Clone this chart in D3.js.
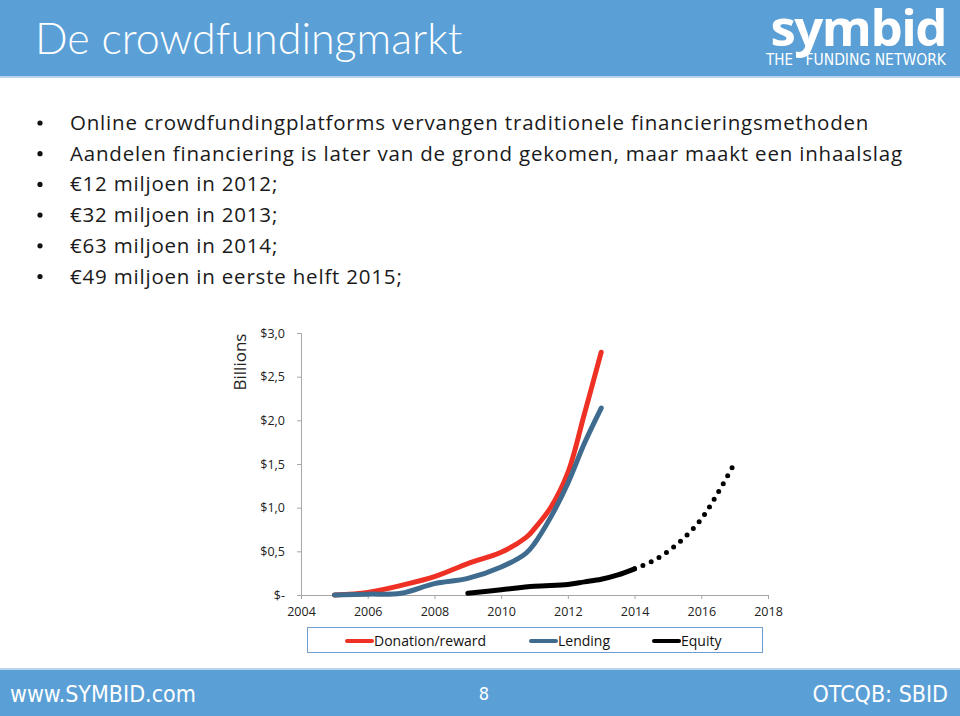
<!DOCTYPE html>
<html><head><meta charset="utf-8">
<script src="https://cdn.jsdelivr.net/npm/d3@7"></script>
<style>
body{margin:0;background:#fff;}
svg{display:block;}
</style></head>
<body>
<svg id="c" width="960" height="716"></svg>
<script>
const title = "De crowdfundingmarkt";
const bullets = [
  "Online crowdfundingplatforms vervangen traditionele financieringsmethoden",
  "Aandelen financiering is later van de grond gekomen, maar maakt een inhaalslag",
  "€12 miljoen in 2012;",
  "€32 miljoen in 2013;",
  "€63 miljoen in 2014;",
  "€49 miljoen in eerste helft 2015;"
];
const xTicks = [2004, 2006, 2008, 2010, 2012, 2014, 2016, 2018];
const yTicks = [0, 0.5, 1.0, 1.5, 2.0, 2.5, 3.0];
const yTickLabels = ["$-", "$0,5", "$1,0", "$1,5", "$2,0", "$2,5", "$3,0"];
const seriesNames = ["Donation/reward", "Lending", "Equity"];
const donationYears = [2005, 2006, 2007, 2008, 2009, 2010, 2010.75, 2011, 2011.5, 2012, 2012.5, 2013];
const donationValues = [0, 0.03, 0.11, 0.21, 0.36, 0.49, 0.66, 0.76, 1.01, 1.40, 2.08, 2.78];
const lendingYears = [2005, 2006, 2007, 2008, 2009, 2010, 2010.75, 2011, 2011.5, 2012, 2012.5, 2013];
const lendingValues = [0, 0.01, 0.02, 0.13, 0.19, 0.32, 0.48, 0.59, 0.90, 1.28, 1.74, 2.14];
const equityYears = [2009, 2010, 2011, 2012, 2012.5, 2013, 2013.5, 2014];
const equityValues = [0.02, 0.06, 0.10, 0.12, 0.15, 0.18, 0.23, 0.30];
const projYears = [2014, 2014.5, 2015, 2015.5, 2016, 2016.5, 2017];
const projValues = [0.30, 0.38, 0.50, 0.66, 0.87, 1.17, 1.51];
const colors = ["#ee3124", "#3f6b8e", "#000000"];
const footerLeft = "www.SYMBID.com", pageNum = "8", footerRight = "OTCQB: SBID";

const svg = d3.select("#c");
const sans = "'Open Sans','Lato',sans-serif";
const lato = "'Lato','Open Sans',sans-serif";
const narrow = "'Liberation Sans Narrow','DejaVu Sans Condensed','Roboto',sans-serif";

// header
svg.append("rect").attr("x",0).attr("y",0).attr("width",960).attr("height",76).attr("fill","#5a9fd6");
svg.append("rect").attr("x",0).attr("y",76).attr("width",960).attr("height",2).attr("fill","#b9d4ec");
svg.append("text").attr("x",35).attr("y",54).attr("fill","#fff").attr("font-family",lato)
  .attr("font-size",43).attr("font-weight",300).text(title);
svg.append("text").attr("x",946).attr("y",46).attr("text-anchor","end").attr("fill","#fff")
  .attr("font-family","'Open Sans',sans-serif").attr("font-weight",700).attr("font-size",51).attr("letter-spacing",-1.5).text("symbid");
svg.append("text").attr("x",766).attr("y",65).attr("fill","#fff").attr("font-family",narrow)
  .attr("font-size",15).text("THE");
svg.append("text").attr("x",946).attr("y",65).attr("text-anchor","end").attr("fill","#fff").attr("font-family",narrow)
  .attr("font-size",15.5).text("FUNDING NETWORK");

// bullets
const bg = svg.append("g");
bullets.forEach((b,i)=>{
  const y = 130 + i*30.7;
  bg.append("circle").attr("cx",40).attr("cy",y-7).attr("r",2.6).attr("fill","#111");
  bg.append("text").attr("x",70).attr("y",y).attr("font-family",sans).attr("font-size",20.5)
    .attr("letter-spacing",0.8).attr("fill","#1a1a1a").text(b);
});

// chart
const x = d3.scaleLinear().domain([2004,2018]).range([301,768]);
const y = d3.scaleLinear().domain([0,3]).range([595,333]);
const gx = svg.append("g").attr("transform","translate(0,595)")
  .call(d3.axisBottom(x).tickValues(xTicks).tickFormat(d3.format("d")).tickSize(4).tickPadding(6));
const gy = svg.append("g").attr("transform","translate(301,0)")
  .call(d3.axisLeft(y).tickValues(yTicks).tickFormat((d,i)=>yTickLabels[i]).tickSize(4).tickPadding(12));
[gx,gy].forEach(g=>{
  g.selectAll("path,line").attr("stroke","#a6a6a6");
  g.selectAll("text").attr("font-family",sans).attr("font-size",12.5).attr("fill","#222");
});
gx.selectAll("text").attr("dy","0.9em");
svg.append("text").attr("transform","translate(246,362) rotate(-90)").attr("text-anchor","middle")
  .attr("font-family",sans).attr("font-size",17).attr("fill","#222").text("Billions");

const line = d3.line().x(d=>x(d[0])).y(d=>y(d[1])).curve(d3.curveCatmullRom.alpha(0.5));
const series = [
  d3.zip(donationYears, donationValues),
  d3.zip(lendingYears, lendingValues),
  d3.zip(equityYears, equityValues)
];
series.forEach((s,i)=>{
  svg.append("path").attr("d",line(s)).attr("fill","none").attr("stroke",colors[i])
    .attr("stroke-width",5).attr("stroke-linecap","round");
});
svg.append("path").attr("d",line(d3.zip(projYears,projValues))).attr("fill","none").attr("stroke","#000")
  .attr("stroke-width",5).attr("stroke-linecap","round").attr("stroke-dasharray","0,9")
  .attr("stroke-dashoffset",-9);

// legend
svg.append("rect").attr("x",307.5).attr("y",627.5).attr("width",455).attr("height",25)
  .attr("fill","#fff").attr("stroke","#6f9bd3").attr("stroke-width",1);
const legX = [345, 529, 652];
seriesNames.forEach((n,i)=>{
  svg.append("line").attr("x1",legX[i]+2).attr("x2",legX[i]+27).attr("y1",641).attr("y2",641)
    .attr("stroke",colors[i]).attr("stroke-width",4).attr("stroke-linecap","round");
  svg.append("text").attr("x",legX[i]+29).attr("y",646).attr("font-family",sans).attr("font-size",14)
    .attr("fill","#111").text(n);
});

// footer
svg.append("rect").attr("x",0).attr("y",668).attr("width",960).attr("height",2).attr("fill","#b9d4ec");
svg.append("rect").attr("x",0).attr("y",670).attr("width",960).attr("height",46).attr("fill","#5a9fd6");
svg.append("text").attr("x",10).attr("y",702).attr("fill","#fff").attr("font-family",narrow)
  .attr("font-size",23).text(footerLeft);
svg.append("text").attr("x",484).attr("y",700).attr("text-anchor","middle").attr("fill","#fff").attr("font-family",narrow)
  .attr("font-size",18).text(pageNum);
svg.append("text").attr("x",948).attr("y",702).attr("text-anchor","end").attr("fill","#fff").attr("font-family",narrow)
  .attr("font-size",23).text(footerRight);
</script>
</body></html>
